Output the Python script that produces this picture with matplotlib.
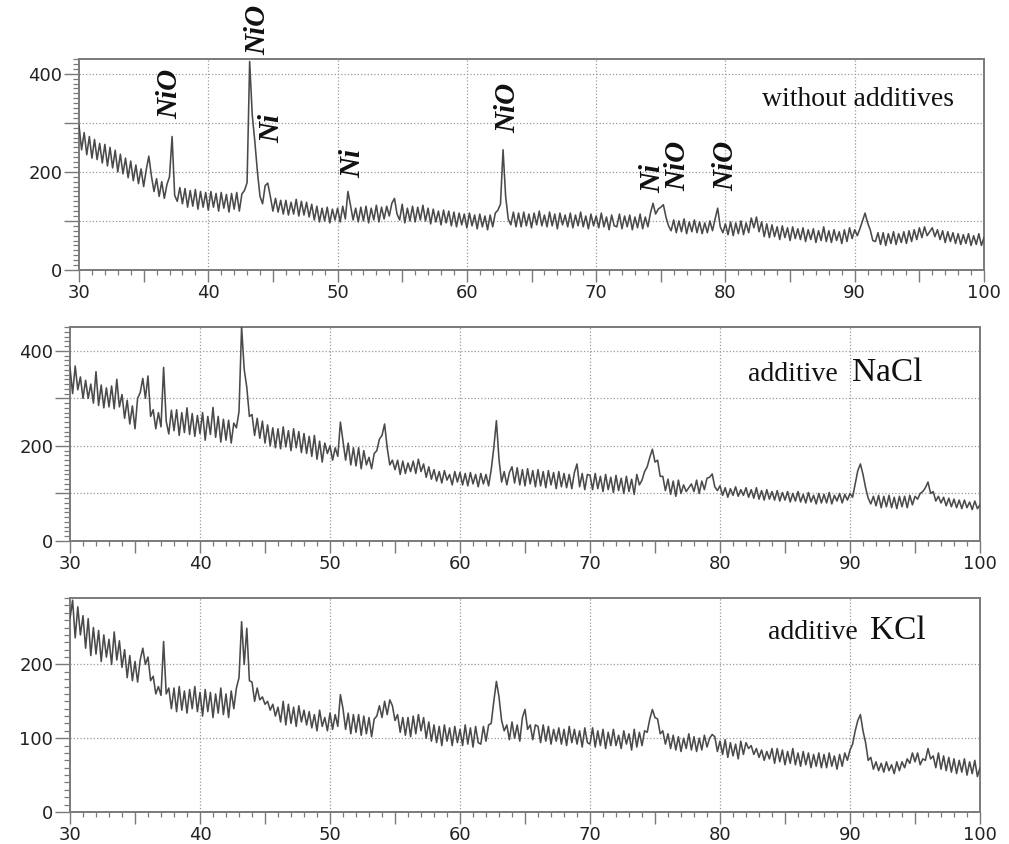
"""XRD patterns of Ni/NiO powders: without additives, with NaCl and with KCl."""
import numpy as np
import matplotlib
matplotlib.use('Agg')
import matplotlib.pyplot as plt
from matplotlib.ticker import MultipleLocator, FuncFormatter

# 2-theta sampling, 0.2 deg steps from 30 to 100
two_theta = np.linspace(30, 100, 351)

# intensities (upper/lower edge of the noise band), one row = 2 deg
I_plain = [
    295, 245, 280, 235, 272, 228, 266, 225, 258, 218,
    256, 212, 250, 208, 244, 200, 236, 196, 228, 188,
    222, 182, 214, 176, 206, 170, 204, 232, 192, 160,
    186, 150, 180, 146, 174, 190, 272, 152, 140, 168,
    135, 166, 128, 162, 130, 164, 124, 160, 128, 158,
    122, 160, 128, 156, 120, 158, 126, 154, 118, 156,
    124, 158, 120, 155, 162, 178, 425, 316, 262, 200,
    150, 135, 172, 177, 150, 120, 146, 118, 142, 114,
    142, 112, 138, 114, 144, 110, 140, 112, 138, 108,
    134, 102, 130, 98, 126, 100, 128, 96, 124, 102,
    126, 98, 130, 104, 160, 132, 102, 126, 98, 128,
    100, 130, 96, 126, 102, 132, 98, 128, 104, 130,
    110, 136, 146, 114, 102, 134, 96, 126, 100, 130,
    98, 128, 102, 132, 100, 126, 94, 124, 98, 120,
    92, 122, 96, 120, 90, 118, 88, 116, 92, 114,
    86, 116, 90, 112, 84, 114, 88, 110, 82, 112,
    88, 116, 122, 134, 245, 150, 104, 92, 118, 88,
    116, 88, 118, 90, 114, 86, 116, 92, 120, 90,
    112, 88, 118, 90, 114, 84, 116, 92, 112, 88,
    116, 86, 112, 90, 118, 88, 110, 84, 114, 90,
    110, 86, 116, 88, 108, 82, 112, 90, 88, 114,
    84, 110, 88, 112, 82, 108, 86, 114, 84, 108,
    88, 116, 136, 114, 124, 128, 133, 108, 90, 80,
    102, 76, 100, 78, 104, 74, 98, 78, 102, 76,
    98, 74, 96, 76, 100, 80, 104, 126, 88, 76,
    94, 72, 98, 70, 96, 74, 100, 72, 96, 76,
    106, 86, 108, 78, 98, 68, 94, 66, 92, 68,
    88, 62, 90, 66, 86, 60, 88, 64, 84, 62,
    86, 58, 82, 62, 84, 56, 80, 60, 88, 58,
    80, 56, 82, 60, 78, 54, 82, 58, 86, 64,
    82, 70, 84, 100, 116, 96, 82, 60, 58, 76,
    52, 76, 50, 74, 54, 78, 52, 74, 56, 78,
    54, 80, 58, 82, 62, 86, 66, 88, 70, 78,
    86, 68, 82, 62, 80, 56, 78, 58, 76, 54,
    74, 52, 72, 54, 74, 50, 70, 52, 74, 50,
    66,
]

I_nacl = [
    365, 310, 368, 318, 345, 300, 338, 300, 330, 290,
    356, 285, 328, 280, 322, 282, 326, 278, 340, 282,
    308, 258, 296, 246, 284, 236, 300, 312, 342, 300,
    347, 262, 276, 236, 270, 240, 365, 252, 225, 275,
    232, 276, 222, 270, 228, 280, 224, 268, 220, 264,
    226, 270, 212, 262, 224, 281, 218, 262, 208, 256,
    212, 254, 206, 248, 238, 272, 450, 361, 323, 262,
    266, 222, 258, 216, 252, 206, 244, 200, 238, 196,
    236, 194, 240, 198, 232, 190, 236, 196, 230, 186,
    226, 184, 220, 178, 222, 172, 210, 166, 206, 184,
    200, 170, 196, 178, 250, 210, 170, 206, 160, 196,
    158, 196, 152, 190, 160, 176, 152, 184, 190, 214,
    222, 246, 196, 160, 170, 150, 170, 140, 168, 142,
    164, 146, 168, 142, 172, 146, 162, 134, 156, 130,
    150, 126, 146, 122, 148, 128, 140, 118, 146, 124,
    144, 118, 142, 116, 144, 120, 140, 114, 142, 120,
    140, 116, 150, 196, 253, 172, 124, 146, 118, 144,
    156, 122, 154, 118, 150, 116, 152, 120, 148, 114,
    150, 116, 146, 112, 148, 118, 144, 110, 146, 114,
    142, 112, 140, 110, 144, 162, 114, 142, 108, 140,
    138, 108, 142, 110, 136, 104, 140, 108, 134, 102,
    138, 106, 132, 100, 136, 104, 130, 98, 140, 118,
    128, 146, 156, 176, 193, 166, 170, 136, 136, 106,
    130, 98, 126, 94, 128, 100, 118, 104, 112, 120,
    104, 128, 100, 126, 108, 132, 134, 141, 114, 106,
    116, 96, 112, 92, 110, 96, 114, 94, 108, 96,
    112, 92, 108, 90, 112, 88, 106, 86, 108, 88,
    104, 86, 106, 84, 102, 86, 104, 82, 100, 84,
    104, 82, 98, 80, 102, 82, 96, 78, 100, 80,
    98, 80, 102, 78, 96, 84, 100, 80, 98, 86,
    100, 92, 120, 148, 162, 140, 112, 90, 78, 94,
    74, 96, 70, 94, 72, 96, 70, 92, 68, 94,
    72, 94, 70, 96, 76, 94, 88, 100, 104, 112,
    124, 100, 104, 84, 94, 80, 92, 74, 90, 72,
    88, 70, 86, 68, 86, 70, 82, 66, 84, 68,
    76,
]

I_kcl = [
    262, 287, 236, 278, 240, 266, 222, 262, 212, 250,
    214, 246, 204, 240, 210, 234, 200, 244, 206, 232,
    196, 220, 182, 212, 178, 204, 176, 206, 222, 200,
    210, 178, 184, 160, 170, 158, 231, 160, 168, 140,
    168, 136, 170, 138, 164, 134, 166, 140, 170, 136,
    162, 130, 166, 136, 162, 128, 160, 134, 168, 132,
    160, 128, 164, 140, 168, 182, 258, 200, 249, 178,
    176, 150, 168, 152, 156, 146, 150, 138, 146, 130,
    142, 122, 150, 118, 146, 120, 142, 116, 144, 122,
    138, 118, 136, 114, 132, 110, 138, 116, 128, 110,
    134, 112, 132, 116, 159, 140, 112, 134, 106, 132,
    108, 132, 104, 130, 106, 128, 102, 126, 130, 144,
    128, 150, 132, 152, 144, 124, 132, 108, 128, 104,
    128, 102, 130, 106, 132, 110, 128, 100, 122, 96,
    118, 94, 116, 90, 118, 96, 114, 90, 116, 94,
    112, 90, 118, 92, 114, 88, 116, 94, 92, 116,
    96, 118, 120, 150, 177, 156, 124, 110, 118, 98,
    122, 100, 118, 96, 128, 139, 112, 118, 98, 118,
    116, 94, 118, 96, 116, 92, 112, 96, 114, 92,
    112, 90, 116, 94, 112, 92, 110, 88, 114, 94,
    92, 114, 88, 110, 90, 112, 86, 108, 90, 112,
    90, 104, 86, 110, 92, 106, 84, 112, 88, 108,
    90, 110, 108, 126, 139, 128, 126, 106, 110, 92,
    106, 86, 104, 84, 102, 82, 100, 86, 106, 84,
    102, 82, 100, 84, 104, 88, 100, 105, 102, 82,
    96, 78, 98, 74, 94, 76, 92, 72, 96, 78,
    94, 86, 90, 78, 86, 74, 84, 70, 82, 72,
    86, 66, 86, 68, 84, 64, 82, 66, 86, 64,
    80, 62, 82, 64, 80, 60, 78, 62, 80, 60,
    78, 60, 80, 62, 76, 58, 78, 62, 80, 70,
    84, 92, 110, 124, 132, 110, 94, 70, 74, 58,
    68, 56, 66, 54, 68, 56, 64, 52, 68, 56,
    68, 60, 72, 66, 80, 68, 80, 64, 72, 70,
    86, 72, 76, 60, 80, 58, 76, 56, 74, 54,
    72, 52, 70, 54, 72, 50, 68, 52, 70, 48,
    60,
]

# phase labels on the top pattern
peak_pos = [37.0, 43.8, 44.9, 51.2, 63.2, 74.4, 76.3, 80.0]
peak_lab_y = [359, 490, 288, 218, 330, 186, 212, 212]
peak_names = ['NiO', 'NiO', 'Ni', 'Ni', 'NiO', 'Ni', 'NiO', 'NiO']

sample_words = ['without additives', 'additive', 'additive']
sample_salts = ['', 'NaCl', 'KCl']
y_tops = [430, 450, 290]
y_label_steps = [200, 200, 100]

assert len(I_plain) == len(I_nacl) == len(I_kcl) == len(two_theta)

W, H = 1009, 844
fig = plt.figure(figsize=(W / 100, H / 100), dpi=100)
# axes boxes in pixels: left, top, right, bottom
boxes = [(79, 59, 984, 270), (70, 327, 980, 541), (70, 598, 980, 812)]
text_xy = [(82.8, 335), (82.15, 337), (83.7, 235)]
salt_x = [None, 90.15, 91.5]

SPINE = '#7a7a7a'
GRID = '#9a9a9a'

for k, I in enumerate([I_plain, I_nacl, I_kcl]):
    l, t, r, b = boxes[k]
    ax = fig.add_axes([l / W, 1 - b / H, (r - l) / W, (b - t) / H])
    ax.plot(two_theta, I, color='#4a4a4a', linewidth=1.15, zorder=3)
    ax.set_xlim(30, 100)
    ax.set_ylim(0, y_tops[k])

    # dotted grid: horizontal at every 100, vertical at 40..90
    for g in range(100, y_tops[k], 100):
        ax.axhline(g, color=GRID, linestyle=':', linewidth=0.9, zorder=1)
    for g in range(40, 100, 10):
        ax.axvline(g, color=GRID, linestyle=':', linewidth=0.9, zorder=1)

    ax.xaxis.set_major_locator(MultipleLocator(5))
    ax.xaxis.set_minor_locator(MultipleLocator(1))
    ax.xaxis.set_major_formatter(FuncFormatter(
        lambda v, p: f'{v:.0f}' if round(v) % 10 == 0 else ''))
    step = y_label_steps[k]
    ax.yaxis.set_major_locator(MultipleLocator(100))
    ax.yaxis.set_minor_locator(MultipleLocator(10))
    ax.yaxis.set_major_formatter(FuncFormatter(
        lambda v, p, s=step: f'{v:.0f}' if round(v) % s == 0 else ''))

    ax.tick_params(axis='x', which='major', direction='out', length=8.5,
                   width=1.0, color=SPINE, pad=1.5, labelsize=13,
                   labelcolor='#222222')
    ax.tick_params(axis='x', which='minor', direction='out', length=3.6,
                   width=0.9, color=SPINE)
    ax.tick_params(axis='y', which='major', direction='out', length=11,
                   width=1.0, color=SPINE, pad=1, labelsize=13,
                   labelcolor='#222222')
    ax.tick_params(axis='y', which='minor', direction='out', length=4.5,
                   width=0.9, color=SPINE)
    for sp in ax.spines.values():
        sp.set_color(SPINE)
        sp.set_linewidth(1.4)

    tx, ty = text_xy[k]
    ax.text(tx, ty, sample_words[k], family='Liberation Serif', fontsize=20,
            ha='left', va='baseline', color='#111111', zorder=4)
    if sample_salts[k]:
        ax.text(salt_x[k], ty, sample_salts[k], family='Liberation Serif',
                fontsize=24, ha='left', va='baseline', color='#111111', zorder=4)

    if k == 0:
        for x0, y0, name in zip(peak_pos, peak_lab_y, peak_names):
            ax.text(x0, y0, name, rotation=90, ha='center', va='center',
                    family='Liberation Serif', fontweight='bold', style='italic',
                    fontsize=21, color='#111111', clip_on=False, zorder=5)

fig.savefig('out.png', dpi=100)
print("Saved out.png")
